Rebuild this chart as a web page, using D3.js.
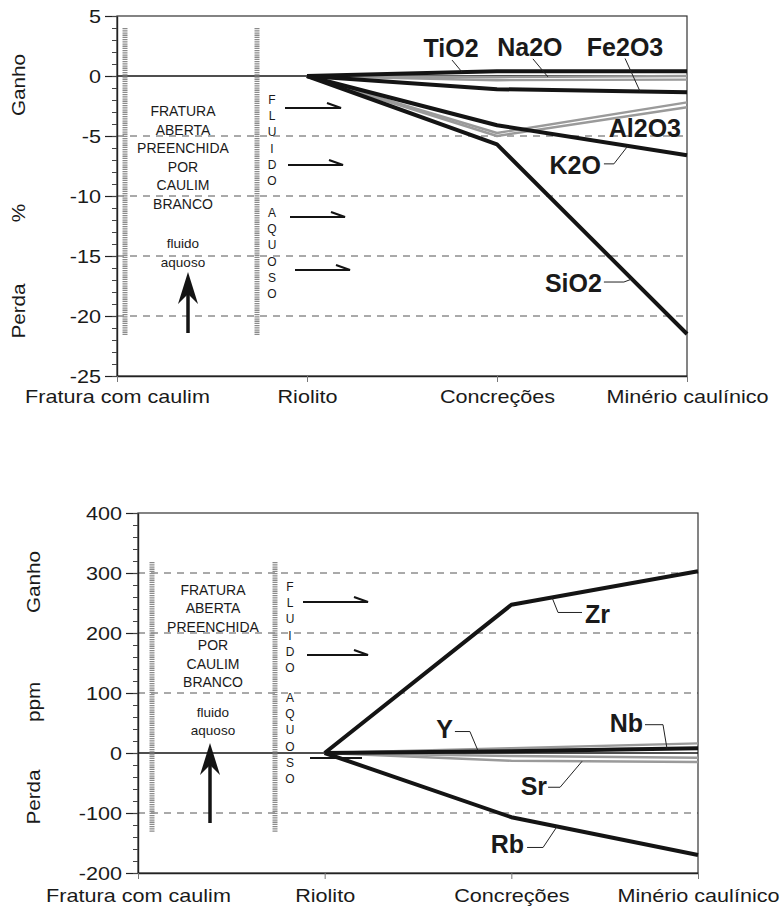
<!DOCTYPE html>
<html>
<head>
<meta charset="utf-8">
<script src="https://cdn.jsdelivr.net/npm/d3@7"></script>
<style>
  body { margin: 0; background: #fff; }
  svg text { font-family: "Liberation Sans", Arial, sans-serif; fill: #1a1a1a; }
</style>
</head>
<body>
<svg id="grafico" width="782" height="912"></svg>
<script>
// categorias do eixo x
const categorias = ["Fratura com caulim", "Riolito", "Concreções", "Minério caulínico"];
// as curvas começam no riolito
const etapas = ["Riolito", "Concreções", "Minério caulínico"];

// óxidos maiores, ganho/perda em %
const TiO2 = [0, 0.4, 0.4];
const Na2O = [0, -0.1, 0.0];
const oxidoSemRotuloA = [0, -0.35, -0.3];
const Fe2O3 = [0, -1.1, -1.35];
const Al2O3 = [0, -4.75, -2.2];
const oxidoSemRotuloB = [0, -5.0, -2.6];
const K2O = [0, -4.1, -6.6];
const SiO2 = [0, -5.7, -21.5];
const ticksPct = [5, 0, -5, -10, -15, -20, -25];

// elementos traço, ganho/perda em ppm
const Zr = [0, 247, 303];
const Nb = [0, 3, 8];
const Yt = [0, 5, 8];
const tracoSemRotuloA = [0, 8, 16];
const tracoSemRotuloB = [0, -5, -8];
const Sr = [0, -13, -15];
const Rb = [0, -107, -170];
const ticksPpm = [400, 300, 200, 100, 0, -100, -200];

const notaLinhas = ["FRATURA", "ABERTA", "PREENCHIDA", "POR", "CAULIM", "BRANCO"];

const PRETO = "#141414", CINZA = "#9a9a9a";
const svg = d3.select("#grafico");

function painel(cfg) {
  const g = svg.append("g");
  const x = d3.scalePoint().domain(categorias).range([cfg.left, cfg.right]);
  const xt = d3.scaleLinear().domain([0, categorias.length - 1]).range([cfg.left, cfg.right]);
  const y = d3.scaleLinear().domain(cfg.domain).range([cfg.bottom, cfg.top]);

  // grade tracejada
  g.selectAll(".grade").data(cfg.grade).join("line")
    .attr("x1", cfg.left).attr("x2", cfg.right)
    .attr("y1", d => y(d)).attr("y2", d => y(d))
    .attr("stroke", "#555").attr("stroke-width", 1).attr("stroke-dasharray", "7,6");

  // moldura
  g.append("rect")
    .attr("x", cfg.left).attr("y", cfg.top)
    .attr("width", cfg.right - cfg.left).attr("height", cfg.bottom - cfg.top)
    .attr("fill", "none").attr("stroke", "#333").attr("stroke-width", 1.2);

  // linha do zero
  g.append("line")
    .attr("x1", cfg.left).attr("x2", cfg.right)
    .attr("y1", y(0)).attr("y2", y(0))
    .attr("stroke", PRETO).attr("stroke-width", 1.4);

  // eixo y
  const eixoY = g.append("g").attr("transform", `translate(${cfg.left},0)`)
    .call(d3.axisLeft(y).tickValues(cfg.ticks).tickSize(12).tickSizeOuter(0).tickFormat(d => String(d)));
  eixoY.select(".domain").attr("stroke", "#222").attr("stroke-width", 1.4);
  eixoY.selectAll(".tick line").attr("stroke", "#222").attr("stroke-width", 1.2);
  eixoY.selectAll(".tick text")
    .attr("x", null).attr("dy", "0.36em")
    .attr("transform", "translate(-16,0) scale(1.2,1)")
    .style("font-size", "18px").attr("fill", "#1a1a1a");
  const menores = d3.range(cfg.domain[0], cfg.domain[1] + cfg.passoMenor / 2, cfg.passoMenor);
  const eixoMenor = g.append("g").attr("transform", `translate(${cfg.left},0)`)
    .call(d3.axisLeft(y).tickValues(menores).tickSize(5).tickSizeOuter(0).tickFormat(""));
  eixoMenor.select(".domain").remove();
  eixoMenor.selectAll(".tick line").attr("stroke", "#444");

  // eixo x
  const eixoX = g.append("g").attr("transform", `translate(0,${cfg.bottom})`)
    .call(d3.axisBottom(x).tickSize(6).tickSizeOuter(0));
  eixoX.select(".domain").attr("stroke", "#222").attr("stroke-width", 1.4);
  eixoX.selectAll(".tick line").attr("stroke", "#777");
  eixoX.selectAll(".tick text")
    .attr("y", null).attr("dy", null)
    .attr("transform", `translate(0,${cfg.catY}) scale(1.2,1)`)
    .style("font-size", "18px").attr("fill", "#1a1a1a");

  // títulos do eixo y
  cfg.titulos.forEach(t => {
    g.append("text")
      .attr("transform", `translate(${cfg.tituloX},${t.y}) rotate(-90) scale(1.15,1)`)
      .attr("text-anchor", "middle")
      .style("font-size", "18px")
      .text(t.texto);
  });

  // anotações: faixas pontilhadas
  const n = cfg.nota;
  n.barras.forEach(bx => {
    g.append("line")
      .attr("x1", bx).attr("x2", bx).attr("y1", n.barY[0]).attr("y2", n.barY[1])
      .attr("stroke", "#8a8a8a").attr("stroke-width", 5).attr("stroke-dasharray", "1.3,0.9");
  });
  notaLinhas.forEach((s, i) => {
    g.append("text")
      .attr("x", n.cx).attr("y", n.y0 + i * n.passo)
      .attr("text-anchor", "middle").attr("dominant-baseline", "central")
      .style("font-size", "14px").attr("fill", "#333")
      .text(s);
  });
  ["fluido", "aquoso"].forEach((s, i) => {
    g.append("text")
      .attr("x", n.cx).attr("y", n.fluido[i])
      .attr("text-anchor", "middle").attr("dominant-baseline", "central")
      .style("font-size", "13.5px").attr("fill", "#333")
      .text(s);
  });
  // seta para cima
  const s = n.seta;
  g.append("line")
    .attr("x1", s.x).attr("x2", s.x).attr("y1", s.fim).attr("y2", s.tip + 12)
    .attr("stroke", PRETO).attr("stroke-width", 3.5);
  g.append("path")
    .attr("d", `M${s.x},${s.tip} L${s.x - 10},${s.tip + 32} L${s.x},${s.tip + 22} L${s.x + 10},${s.tip + 32} Z`)
    .attr("fill", PRETO);
  // letras verticais
  [["F", "L", "U", "I", "D", "O"], ["A", "Q", "U", "O", "S", "O"]].forEach((grupo, k) => {
    grupo.forEach((c, i) => {
      g.append("text")
        .attr("x", n.letras.x).attr("y", n.letras.y[k] + i * n.letras.passo)
        .attr("text-anchor", "middle").attr("dominant-baseline", "central")
        .style("font-size", "12px").attr("fill", "#333")
        .text(c);
    });
  });
  // setas de fluxo (meia seta)
  n.setas.forEach(h => {
    g.append("path")
      .attr("d", h.semPonta ? `M${h.x1},${h.y} H${h.x2}` : `M${h.x1},${h.y} H${h.x2} l-14,-5`)
      .attr("fill", "none").attr("stroke", PRETO).attr("stroke-width", 2.2);
  });

  // curvas
  const linha = d3.line().x((d, i) => x(etapas[i])).y(d => y(d));
  const ordem = cfg.series.filter(d => d.cor === CINZA).concat(cfg.series.filter(d => d.cor !== CINZA));
  g.selectAll(".serie").data(ordem).join("path")
    .attr("d", d => linha(d.valores))
    .attr("fill", "none")
    .attr("stroke", d => d.cor)
    .attr("stroke-width", d => d.cor === CINZA ? 2.4 : 4)
    .attr("stroke-linejoin", "round");

  // rótulos com linha de chamada
  cfg.rotulos.forEach(r => {
    const v = d3.scaleLinear().domain([1, 2, 3]).range(r.serie)(r.t);
    const px = xt(r.t), py = y(v);
    if (r.guia) {
      g.append("path")
        .attr("d", d3.line()(r.guia.map(p => [px + p[0], py + p[1]])))
        .attr("fill", "none").attr("stroke", "#222").attr("stroke-width", 1);
    }
    g.append("text")
      .attr("x", px + r.dx).attr("y", py + r.dy)
      .attr("text-anchor", r.anchor)
      .style("font-size", "25px").style("font-weight", "bold")
      .text(r.nome);
  });
}

painel({
  left: 117, right: 687, top: 16, bottom: 376,
  domain: [-25, 5], ticks: ticksPct, passoMenor: 1, grade: [-5, -10, -15, -20],
  catY: 27, tituloX: 25,
  titulos: [{ texto: "Ganho", y: 85 }, { texto: "%", y: 213 }, { texto: "Perda", y: 311 }],
  series: [
    { valores: Na2O, cor: CINZA }, { valores: oxidoSemRotuloA, cor: CINZA },
    { valores: Al2O3, cor: CINZA }, { valores: oxidoSemRotuloB, cor: CINZA },
    { valores: TiO2, cor: PRETO }, { valores: Fe2O3, cor: PRETO },
    { valores: K2O, cor: PRETO }, { valores: SiO2, cor: PRETO }
  ],
  rotulos: [
    { nome: "TiO2", serie: TiO2, t: 1.816, dx: -11, dy: -15, anchor: "middle", guia: [[0, 0], [-10, -12]] },
    { nome: "Na2O", serie: Na2O, t: 2.268, dx: -18, dy: -21, anchor: "middle", guia: [[0, 0], [-15, -18]] },
    { nome: "Fe2O3", serie: Fe2O3, t: 2.753, dx: -15, dy: -35, anchor: "middle", guia: [[0, 0], [-15, -33]] },
    { nome: "Al2O3", serie: Al2O3, t: 3, dx: -6, dy: 35, anchor: "end" },
    { nome: "K2O", serie: K2O, t: 2.689, dx: -27, dy: 28, anchor: "end", guia: [[0, 0], [-14, 18], [-24, 18]] },
    { nome: "SiO2", serie: SiO2, t: 2.71, dx: -30, dy: 13, anchor: "end", guia: [[0, 0], [-8, 3], [-28, 3]] }
  ],
  nota: {
    barras: [125, 257], barY: [28, 335], cx: 183, y0: 111, passo: 18.6, fluido: [243, 262],
    seta: { x: 188, tip: 272, fim: 333 },
    letras: { x: 272, y: [100, 213], passo: 16.2 },
    setas: [
      { y: 108, x1: 285, x2: 341 }, { y: 165, x1: 288, x2: 343 },
      { y: 217, x1: 290, x2: 345 }, { y: 270, x1: 295, x2: 350 }
    ]
  }
});

painel({
  left: 138, right: 698, top: 513, bottom: 873,
  domain: [-200, 400], ticks: ticksPpm, passoMenor: 20, grade: [300, 200, 100, -100],
  catY: 29, tituloX: 40,
  titulos: [{ texto: "Ganho", y: 582 }, { texto: "ppm", y: 702 }, { texto: "Perda", y: 797 }],
  series: [
    { valores: Yt, cor: CINZA }, { valores: tracoSemRotuloA, cor: CINZA },
    { valores: tracoSemRotuloB, cor: CINZA }, { valores: Sr, cor: CINZA },
    { valores: Zr, cor: PRETO }, { valores: Nb, cor: PRETO }, { valores: Rb, cor: PRETO }
  ],
  rotulos: [
    { nome: "Zr", serie: Zr, t: 2.218, dx: 33, dy: 25.5, anchor: "start", guia: [[0, 0], [6, 15], [30, 15]] },
    { nome: "Y", serie: Yt, t: 1.821, dx: -25, dy: -12.5, anchor: "end", guia: [[0, 0], [-8, -19], [-23, -19]] },
    { nome: "Nb", serie: Nb, t: 2.834, dx: -24, dy: -16.7, anchor: "end", guia: [[0, 0], [-4, -24], [-22, -24]] },
    { nome: "Sr", serie: Sr, t: 2.379, dx: -35, dy: 33.7, anchor: "end", guia: [[0, 0], [-22, 26], [-34, 26]] },
    { nome: "Rb", serie: Rb, t: 2.245, dx: -33, dy: 26.6, anchor: "end", guia: [[0, 0], [-14, 21], [-30, 21]] }
  ],
  nota: {
    barras: [152, 275], barY: [562, 832], cx: 213, y0: 590, passo: 18.4, fluido: [712, 730],
    seta: { x: 210, tip: 743, fim: 823 },
    letras: { x: 290, y: [587, 698], passo: 16.2 },
    setas: [
      { y: 602, x1: 303, x2: 368 }, { y: 655, x1: 307, x2: 368 },
      { y: 758, x1: 310, x2: 362, semPonta: true }
    ]
  }
});
</script>
</body>
</html>
